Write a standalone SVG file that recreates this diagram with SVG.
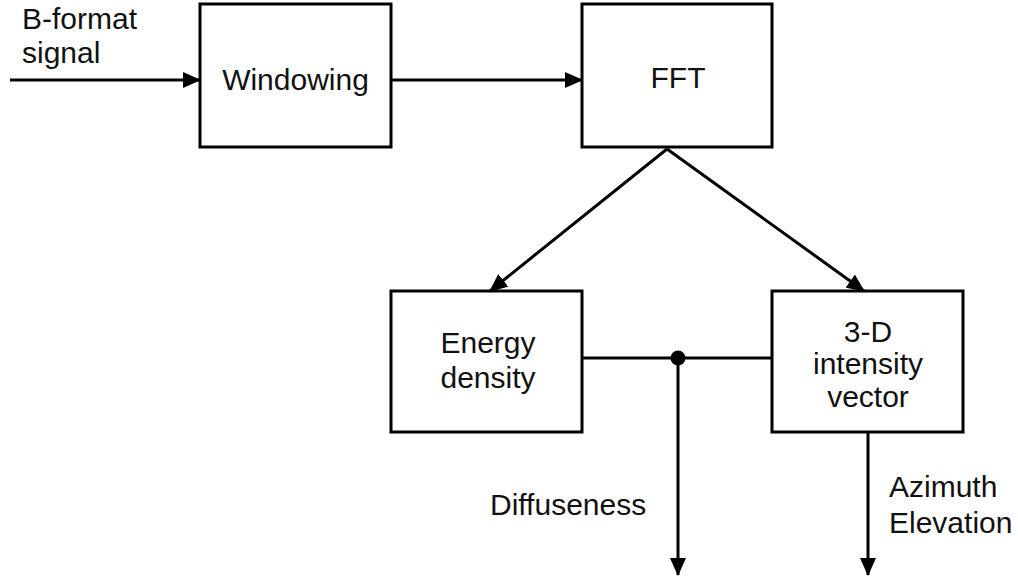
<svg xmlns="http://www.w3.org/2000/svg" width="1018" height="580" viewBox="0 0 1018 580">
  <style>
    .box { fill: #ffffff; stroke: #000000; stroke-width: 3; }
    .wire { fill: none; stroke: #000000; stroke-width: 3; }
    .lbl { font-family: "Liberation Sans", Arial, sans-serif; font-size: 30px; fill: #111111; }
    .mid { text-anchor: middle; }
  </style>
  <defs>
    <marker id="arrow" markerUnits="userSpaceOnUse" markerWidth="18" markerHeight="16" refX="17" refY="8" orient="auto">
      <path d="M0,0 L18,8 L0,16 Z" fill="#000000"/>
    </marker>
  </defs>
  <rect width="1018" height="580" fill="#ffffff"/>

  <!-- connectors -->
  <g id="connectors">
    <line class="wire" x1="10" y1="80" x2="200" y2="80" marker-end="url(#arrow)"/>
    <line class="wire" x1="391" y1="80" x2="582" y2="80" marker-end="url(#arrow)"/>
    <line class="wire" x1="667" y1="149" x2="490" y2="291" marker-end="url(#arrow)"/>
    <line class="wire" x1="667" y1="149" x2="864" y2="291" marker-end="url(#arrow)"/>
    <line class="wire" x1="582" y1="358" x2="772" y2="358"/>
    <circle cx="678" cy="358" r="7.5" fill="#000000"/>
    <line class="wire" x1="678" y1="358" x2="678" y2="575" marker-end="url(#arrow)"/>
    <line class="wire" x1="868" y1="432" x2="868" y2="575" marker-end="url(#arrow)"/>
  </g>

  <!-- free labels -->
  <g id="input-label">
    <text class="lbl" x="22" y="29">B-format</text>
    <text class="lbl" x="22" y="63">signal</text>
  </g>
  <g id="diffuseness-label">
    <text class="lbl" x="490" y="515">Diffuseness</text>
  </g>
  <g id="direction-label">
    <text class="lbl" x="889" y="497">Azimuth</text>
    <text class="lbl" x="889" y="533">Elevation</text>
  </g>

  <!-- nodes -->
  <g id="windowing">
    <rect class="box" x="200" y="4" width="191" height="143"/>
    <text class="lbl mid" x="295.5" y="90">Windowing</text>
  </g>
  <g id="fft">
    <rect class="box" x="582" y="4" width="190" height="143"/>
    <text class="lbl mid" x="678" y="88">FFT</text>
  </g>
  <g id="energy-density">
    <rect class="box" x="391" y="291" width="191" height="141"/>
    <text class="lbl mid" x="488" y="353">Energy</text>
    <text class="lbl mid" x="488" y="388">density</text>
  </g>
  <g id="intensity-vector">
    <rect class="box" x="772" y="291" width="191" height="141"/>
    <text class="lbl mid" x="868" y="342">3-D</text>
    <text class="lbl mid" x="868" y="374">intensity</text>
    <text class="lbl mid" x="868" y="407">vector</text>
  </g>
</svg>
